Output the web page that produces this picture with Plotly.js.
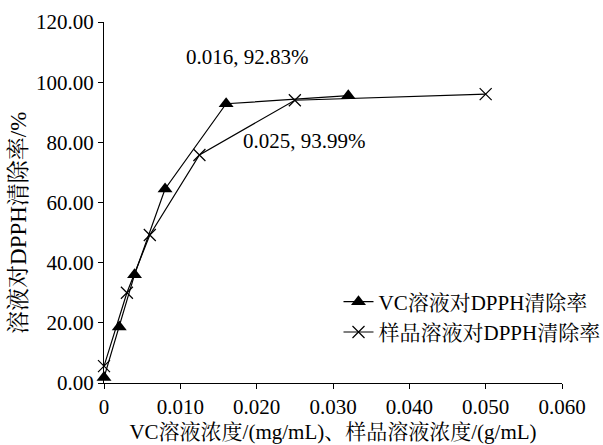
<!DOCTYPE html>
<html><head><meta charset="utf-8">
<script src="https://cdn.plot.ly/plotly-3.0.1.min.js"></script>
<style>body{margin:0;padding:0;background:#fff}</style>
</head><body><div id="chart" style="width:603px;height:445px"></div>
<script>
const vcX = [0, 0.002, 0.004, 0.008, 0.016, 0.032];
const vcY = [1.8, 18.6, 36.0, 64.5, 92.83, 95.5];
const sampleX = [0, 0.003, 0.006, 0.0125, 0.025, 0.05];
const sampleY = [5.6, 30.0, 49.2, 75.8, 93.99, 96.0];
const xTickVals = [0, 0.01, 0.02, 0.03, 0.04, 0.05, 0.06];
const xTickText = ["0", "0.010", "0.020", "0.030", "0.040", "0.050", "0.060"];
const serif = "'Liberation Serif', 'Times New Roman', 'Noto Serif CJK SC', 'Noto Sans CJK SC', serif";

const traces = [
  {x: vcX, y: vcY, name: "VC溶液对DPPH清除率", mode: "lines+markers", cliponaxis: false,
   line: {color: "#000", width: 1.2},
   marker: {symbol: "triangle-up", size: 13, color: "#000"}},
  {x: sampleX, y: sampleY, name: "样品溶液对DPPH清除率", mode: "lines+markers", cliponaxis: false,
   line: {color: "#000", width: 1.2},
   marker: {symbol: "x-thin-open", size: 12, color: "#000", line: {color: "#000", width: 1.2}}}
];

const layout = {
  width: 603, height: 445,
  margin: {l: 104, r: 41, t: 22, b: 62, autoexpand: false},
  paper_bgcolor: "#fff", plot_bgcolor: "#fff",
  font: {family: serif, color: "#000", size: 21},
  showlegend: true,
  legend: {x: 0.512, y: 0.281, xanchor: "left", yanchor: "top", bgcolor: "rgba(0,0,0,0)",
           font: {size: 21, family: serif}, tracegroupgap: 0},
  xaxis: {range: [0, 0.06], tickvals: xTickVals, ticktext: xTickText,
          showgrid: false, zeroline: false, showline: true, linecolor: "#000", linewidth: 1,
          ticks: "outside", ticklen: 5, tickcolor: "#000",
          tickfont: {size: 21, family: serif},
          title: {text: "VC溶液浓度/(mg/mL)、样品溶液浓度/(g/mL)", font: {size: 21, family: serif}, standoff: 6}},
  yaxis: {range: [0, 120], dtick: 20, tickformat: ".2f",
          showgrid: false, zeroline: false, showline: true, linecolor: "#000", linewidth: 1,
          ticks: "outside", ticklen: 5, tickcolor: "#000",
          tickfont: {size: 21, family: serif}},
  annotations: [
    {x: 0.016, y: 92.83, xref: "x", yref: "y", text: "0.016, 92.83%", showarrow: false,
     xshift: 21, yshift: 47, font: {size: 21, family: serif}},
    {x: 0.025, y: 93.99, xref: "x", yref: "y", text: "0.025, 93.99%", showarrow: false,
     xshift: 10, yshift: -41, font: {size: 21, family: serif}},
    {x: -0.188, y: 0.443, xref: "paper", yref: "paper", text: "溶液对DPPH清除率/%", showarrow: false,
     textangle: -90, xanchor: "center", yanchor: "middle", font: {size: 23, family: serif}}
  ]
};
Plotly.newPlot("chart", traces, layout, {displayModeBar: false, staticPlot: true});
</script></body></html>
